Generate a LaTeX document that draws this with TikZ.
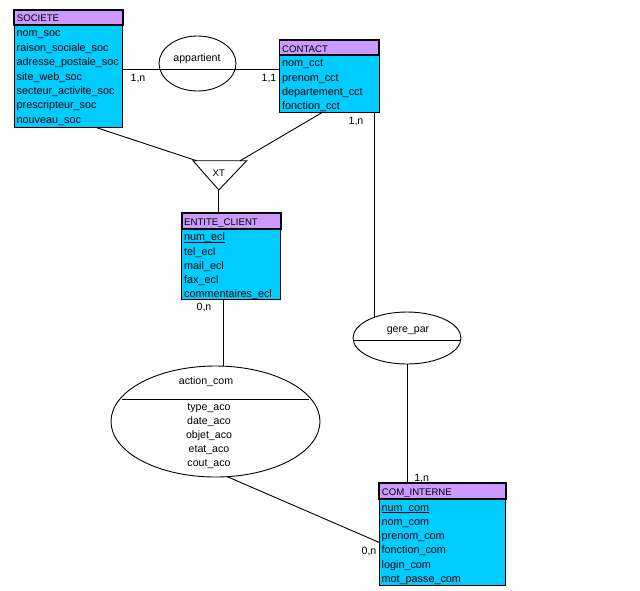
\documentclass[tikz,border=0pt]{standalone}
\usepackage{fontspec}
\setmainfont{Liberation Sans}
\usetikzlibrary{shapes.geometric,calc}
\definecolor{hdr}{RGB}{204,153,255}
\definecolor{bdy}{RGB}{0,204,255}
\newcommand\keyul[1]{\setbox0\hbox{#1}\rlap{\rule[-1.7pt]{\wd0}{0.8pt}}\box0}
\tikzset{
 hdrbox/.style={draw=black, line width=1.8pt, fill=hdr, anchor=north west, inner sep=0, outer sep=0},
 bdybox/.style={draw=black, line width=1pt, fill=bdy, anchor=north west, inner sep=0, outer sep=0},
 ttl/.style={anchor=base west, inner sep=0, font=\fontsize{9.6}{11}\selectfont},
 att/.style={anchor=base west, inner sep=0, font=\fontsize{10.8}{12}\selectfont},
 rel/.style={draw, ellipse, line width=0.9pt, inner sep=0, outer sep=0},
 lbl/.style={anchor=base, inner sep=0, font=\fontsize{10.6}{12}\selectfont},
 conn/.style={line width=0.9pt},
}
\begin{document}
\begin{tikzpicture}[x=1pt,y=-1pt]
\fill[white] (0,0) rectangle (640,590);
\useasboundingbox (0,0) rectangle (640,590);

% ---------- SOCIETE
\node[bdybox, minimum width=108.7, minimum height=102.7] (socB) at (14,25) {};
\node[hdrbox, minimum width=108.7, minimum height=15] (socH) at (14,10) {};
\node[ttl] (socT) at (16.7,21.7) {SOCIETE};
\foreach \t [count=\i] in {nom\_soc, raison\_sociale\_soc, adresse\_postale\_soc, site\_web\_soc, secteur\_activite\_soc, prescripteur\_soc, nouveau\_soc}
  \node[att] (soc\i) at (16.5,{36.7+14.45*(\i-1)}) {\t};

% ---------- CONTACT
\node[bdybox, minimum width=99.8, minimum height=57] (conB) at (279.5,55) {};
\node[hdrbox, minimum width=99.8, minimum height=15] (conH) at (279.5,40) {};
\node[ttl] (conT) at (282,52) {CONTACT};
\foreach \t [count=\i] in {nom\_cct, prenom\_cct, departement\_cct, fonction\_cct}
  \node[att] (con\i) at (282,{66.7+14.3*(\i-1)}) {\t};

% ---------- ENTITE_CLIENT
\node[bdybox, minimum width=99, minimum height=70] (entB) at (181.7,229) {};
\node[hdrbox, minimum width=99, minimum height=16] (entH) at (181.7,213) {};
\node[ttl] (entT) at (184,225.7) {ENTITE\_CLIENT};
\foreach \t [count=\i] in {{\keyul{num\_ecl}}, tel\_ecl, mail\_ecl, fax\_ecl, commentaires\_ecl}
  \node[att] (ent\i) at (184,{240.7+14.3*(\i-1)}) {\t};

% ---------- COM_INTERNE
\node[bdybox, minimum width=126.7, minimum height=86.7] (comB) at (379,499) {};
\node[hdrbox, minimum width=126.7, minimum height=16] (comH) at (379,483) {};
\node[ttl] (comT) at (381.7,495.7) {COM\_INTERNE};
\foreach \t [count=\i] in {{\keyul{num\_com}}, nom\_com, prenom\_com, fonction\_com, login\_com, mot\_passe\_com}
  \node[att] (com\i) at (381.5,{511+14.3*(\i-1)}) {\t};

% ---------- appartient
\node[rel, minimum width=77, minimum height=55] (app) at (197.5,63.5) {};
\node[lbl] (appT) at (197,61) {appartient};
\coordinate (appY) at (0,69);
\draw[conn] (socB.east |- appY) -- (conB.west |- appY);
\node[lbl] (c1) at (138,81.7) {1,n};
\node[lbl] (c2) at (269,81.7) {1,1};

% ---------- XT
\coordinate (xtL) at (193,160.7);
\coordinate (xtR) at (246.7,160.7);
\coordinate (xtA) at (218.8,190);
\draw[conn] (xtL) -- (xtR) -- (xtA) -- cycle;
\node[lbl, font=\fontsize{9.6}{11}\selectfont] (xt) at (218.8,176) {XT};
\draw[conn] ($(socB.south west)+(82.7,0)$) -- ($(xtL)+(3.5,0)$);
\draw[conn] ($(conB.south west)+(43.5,0)$) -- ($(xtR)+(-6.5,0)$);
\draw[conn] (xtA) -- (xtA |- entH.north);

% ---------- gere_par
\node[rel, minimum width=108, minimum height=52] (gere) at (407,338) {};
\draw[conn] ($(gere.west)+(0,2)$) -- ($(gere.east)+(0,2)$);
\node[lbl] (gereT) at (408,332.3) {gere\_par};
\draw[conn] (gere.148) -- (conB.south -| gere.148);
\draw[conn] (gere.south) -- (gere.south |- comH.north);
\node[lbl] (c3) at (356,124.3) {1,n};
\node[lbl] (c4) at (421.7,481) {1,n};

% ---------- action_com
\node[rel, minimum width=209, minimum height=111] (act) at (215.5,421.5) {};
\draw[conn] ($(act.center)+(-93.5,-22.5)$) -- ($(act.center)+(93.5,-22.5)$);
\node[lbl] (actT) at (206,384.3) {action\_com};
\foreach \t [count=\i] in {type\_aco, date\_aco, objet\_aco, etat\_aco, cout\_aco}
  \node[lbl] (act\i) at (209,{410.7+14*(\i-1)}) {\t};
\coordinate (e1) at ($(entB.south west)+(41.3,0)$);
\draw[conn] (e1) -- (e1 |- act.north);
\draw[conn] (act.-78) -- (comB.west);
\node[lbl] (c5) at (204,310.7) {0,n};
\node[lbl] (c6) at (369,554.3) {0,n};
\end{tikzpicture}
\end{document}
